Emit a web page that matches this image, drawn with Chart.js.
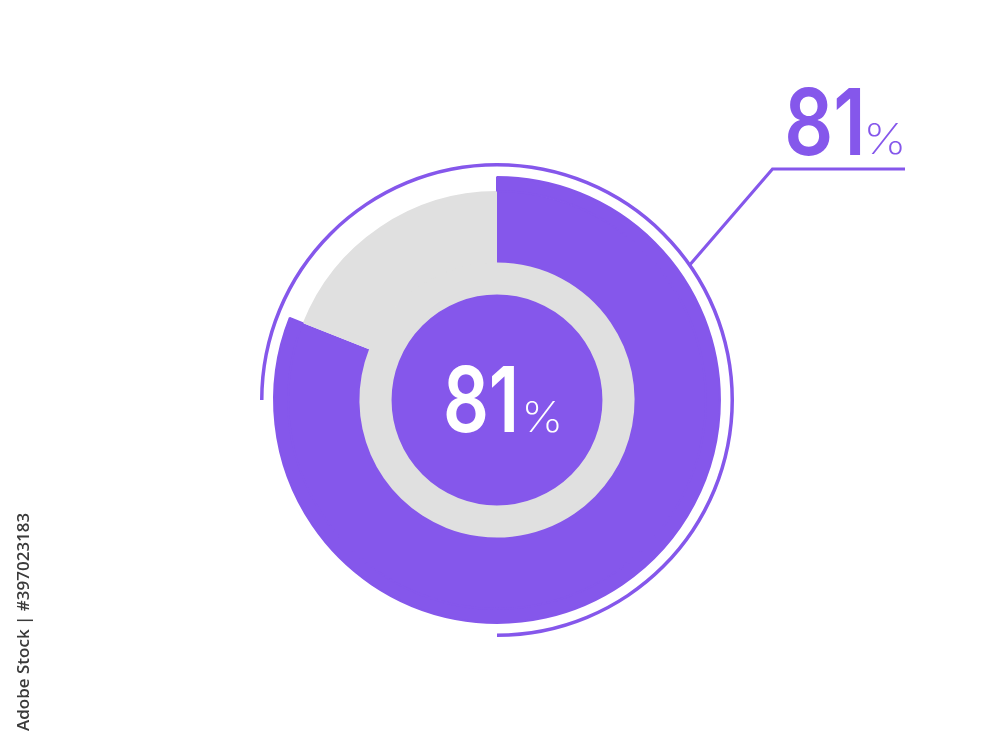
<!DOCTYPE html>
<html>
<head>
<meta charset="utf-8">
<script src="https://cdn.jsdelivr.net/npm/chart.js@4.4.1/dist/chart.umd.min.js"></script>
<style>
  html, body { margin: 0; padding: 0; background: #fff; }
  canvas { display: block; }
</style>
</head>
<body>
<canvas id="chart" width="1000" height="745"></canvas>
<script>
// data
const labels = ['Done', 'Left'];
const values = [81, 19];
const arcSpan = [270, 90];      // thin outer arc, degrees drawn / not drawn
const fullRing = [100];

const purple = '#8557EB';
const gray = '#E0E0E0';
const clear = 'rgba(0,0,0,0)';

// draw text so its ink fills the given box
function fitText(ctx, str, x0, x1, yTop, yBot, font, color) {
  ctx.save();
  ctx.font = font;
  ctx.textAlign = 'left';
  ctx.textBaseline = 'alphabetic';
  const m = ctx.measureText(str);
  const w = m.actualBoundingBoxLeft + m.actualBoundingBoxRight;
  const h = m.actualBoundingBoxAscent + m.actualBoundingBoxDescent;
  ctx.translate(x0, yTop);
  ctx.scale((x1 - x0) / w, (yBot - yTop) / h);
  ctx.fillStyle = color;
  ctx.fillText(str, m.actualBoundingBoxLeft, m.actualBoundingBoxAscent);
  ctx.restore();
}

const labelPlugin = {
  id: 'labels',
  afterDraw(chart) {
    const ctx = chart.ctx;
    const arc = chart.getDatasetMeta(0).data[0];
    const r = (arc.outerRadius + arc.innerRadius) / 2;
    const a = -35 * Math.PI / 180;

    // leader line
    ctx.save();
    ctx.strokeStyle = purple;
    ctx.lineWidth = 3.2;
    ctx.beginPath();
    ctx.moveTo(arc.x + r * Math.cos(a), arc.y + r * Math.sin(a));
    ctx.lineTo(772.5, 169);
    ctx.lineTo(905, 169);
    ctx.stroke();
    ctx.restore();

    const txt = String(values[0]);
    fitText(ctx, txt, 788, 860, 86.5, 156, '600 100px Inter', purple);
    fitText(ctx, '%', 868, 902, 123, 155, '200 60px Inter', purple);

    fitText(ctx, txt, 446.5, 514, 365, 433, '600 100px Inter', '#fff');
    fitText(ctx, '%', 526, 559, 401.5, 433, '200 60px Inter', '#fff');

    // stock id on the left edge
    ctx.save();
    ctx.translate(29, 731);
    ctx.rotate(-Math.PI / 2);
    ctx.font = '600 17px "Open Sans"';
    ctx.fillStyle = '#3a3a3a';
    ctx.textAlign = 'left';
    ctx.textBaseline = 'alphabetic';
    ctx.fillText('Adobe Stock | #397023183', 0, 0);
    ctx.restore();
  }
};

const ctx = document.getElementById('chart').getContext('2d');
new Chart(ctx, {
  type: 'doughnut',
  data: {
    labels: labels,
    datasets: [
      { data: arcSpan, backgroundColor: [purple, clear], rotation: -90, weight: 3.5 },
      { data: fullRing, backgroundColor: [clear], weight: 10.5 },
      { data: values, backgroundColor: [purple, clear], borderColor: [purple, clear], borderWidth: 2, borderAlign: 'center', weight: 14 },
      { data: values, backgroundColor: [purple, gray], weight: 71 },
      { data: fullRing, backgroundColor: [gray], borderColor: [gray], borderWidth: 2, borderAlign: 'center', weight: 31 },
      { data: fullRing, backgroundColor: [purple], weight: 106 }
    ]
  },
  options: {
    responsive: false,
    animation: false,
    devicePixelRatio: 1,
    cutout: 0,
    layout: { padding: { top: 163, bottom: 108, left: 0, right: 6 } },
    elements: { arc: { borderWidth: 0, hoverOffset: 0, offset: 0 } },
    plugins: {
      legend: { display: false },
      tooltip: { enabled: false }
    },
    events: []
  },
  plugins: [labelPlugin]
});
</script>
</body>
</html>
